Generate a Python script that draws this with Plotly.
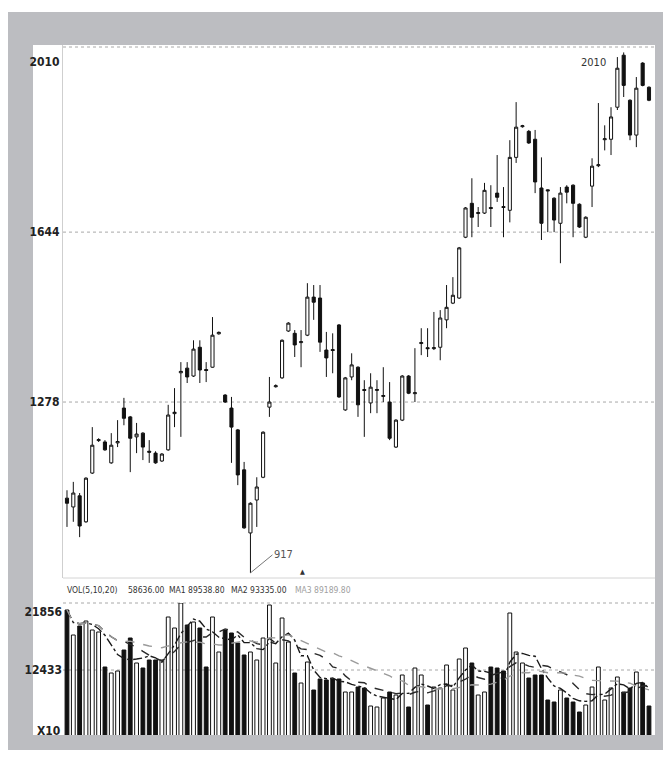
import plotly.graph_objects as go
import pandas as pd

# ---------------- data ----------------
opens = [1071,1052,1076,1020,1125,1195,1192,1147,1190,1265,1246,1203,1211,1172,1168,1151,1175,1253,1341,1351,
         1334,1396,1348,1353,1425,1293,1265,1218,1132,996,1067,1116,1267,1311,1330,1431,1426,1406,1422,1504,
         1502,1390,1391,1444,1261,1332,1353,1305,1276,1303,1290,1278,1181,1239,1334,1296,1404,1395,1393,1396,
         1455,1491,1502,1633,1706,1684,1685,1697,1728,1699,1691,1805,1871,1861,1844,1739,1735,1717,1663,1741,
         1745,1704,1633,1743,1787,1843,1844,1913,2025,1928,1853,2008,1956]
highs = [1088,1106,1082,1116,1224,1200,1196,1211,1239,1287,1248,1233,1213,1196,1172,1168,1272,1308,1364,1364,
         1411,1411,1364,1461,1430,1295,1289,1220,1149,1062,1116,1215,1332,1316,1413,1450,1433,1433,1534,1530,
         1530,1429,1426,1446,1332,1383,1355,1325,1340,1325,1353,1321,1241,1336,1336,1394,1437,1437,1472,1476,
         1530,1547,1612,1698,1760,1698,1750,1745,1810,1741,1842,1924,1875,1864,1864,1805,1736,1719,1741,1745,
         1747,1706,1678,1803,1922,1874,1913,2021,2031,1930,1978,2010,1958]
lows = [1009,1020,987,1018,1123,1192,1173,1145,1181,1228,1127,1168,1153,1147,1145,1149,1173,1224,1203,1319,
        1332,1319,1321,1352,1423,1276,1147,1099,1005,910,1009,1114,1246,1309,1328,1429,1375,1353,1420,1455,
        1386,1332,1340,1287,1259,1325,1246,1203,1254,1254,1278,1196,1179,1237,1295,1278,1379,1375,1390,1368,
        1437,1489,1500,1631,1633,1655,1683,1655,1709,1633,1665,1793,1869,1834,1728,1627,1644,1644,1577,1706,
        1633,1653,1631,1698,1784,1820,1810,1907,1935,1842,1827,1958,1926]
closes = [1060,1082,1011,1114,1185,1197,1175,1185,1193,1243,1200,1209,1181,1170,1147,1166,1250,1256,1344,1332,
          1392,1347,1346,1422,1428,1278,1224,1121,1007,1060,1095,1213,1278,1313,1411,1448,1401,1408,1504,1493,
          1407,1373,1389,1289,1330,1358,1272,1303,1310,1305,1292,1200,1239,1334,1297,1298,1406,1393,1395,1459,
          1482,1508,1610,1696,1676,1686,1734,1695,1719,1697,1805,1870,1873,1836,1752,1663,1733,1670,1728,1730,
          1706,1655,1676,1786,1789,1845,1892,1997,1960,1853,1954,1960,1928]
volumes = [22153,18103,19561,20371,18913,18589,12919,11947,12271,15673,17617,13567,12757,14053,14053,14053,21019,19237,23287,19723,
           20209,19237,12919,21019,15349,18913,18427,16807,14863,15349,14053,17617,22963,13567,20857,16969,11947,10327,13729,9193,
           10975,10813,10975,10975,8869,8869,9679,9517,6601,6439,7897,8869,8383,11623,6439,12757,11623,6763,9679,9517,
           13243,9193,14215,15997,13567,8383,8869,12919,12757,12271,21667,15349,13567,11137,11623,11623,7573,7249,9193,7897,
           7249,5629,6763,9679,12919,7573,9517,11299,8869,9517,12109,10327,6601]

price_ticks = [1278, 1644, 2010]
price_tick_labels = ["1278", "1644", "2010"]
vol_ticks = [12433, 21856]
vol_tick_labels = ["12433", "21856"]
legend_texts = ["VOL(5,10,20)", "58636.00", "MA1 89538.80", "MA2 93335.00", "MA3 89189.80"]
high_label = "2010"
low_label = "917"

idx = list(range(len(opens)))
vol_s = pd.Series(volumes, dtype=float)
ma5 = vol_s.rolling(5, min_periods=1).mean()
ma10 = vol_s.rolling(10, min_periods=1).mean()
ma20 = vol_s.rolling(20, min_periods=1).mean()

# page has an 8px body margin; lay out in page pixels and compensate
OFF = 8
W, H = 671 - OFF, 757 - OFF
PL, PR, PT, PB = 63, 655, 45, 735          # plot area in page pixels
ML, MT = PL - OFF, PT - OFF
MR, MB = W - (PR - OFF), H - (PB - OFF)
PW, PH = PR - PL, PB - PT


def px(x):
    return (x - PL) / PW


def py(y):
    return (PB - y) / PH


FONT = "Liberation Sans Narrow, DejaVu Sans Condensed, sans-serif"
GRAY = "#bcbdc1"

fig = go.Figure()

fig.add_trace(go.Candlestick(
    x=idx, open=opens, high=highs, low=lows, close=closes,
    increasing=dict(line=dict(color="#111111", width=1), fillcolor="#ffffff"),
    decreasing=dict(line=dict(color="#111111", width=1), fillcolor="#111111"),
    whiskerwidth=0, showlegend=False, hoverinfo="skip",
    xaxis="x", yaxis="y"))

bar_fill = ["#111111" if c < o else "#ffffff" for o, c in zip(opens, closes)]
fig.add_trace(go.Bar(
    x=idx, y=volumes, width=0.6,
    marker=dict(color=bar_fill, line=dict(color="#111111", width=1)),
    showlegend=False, hoverinfo="skip", xaxis="x2", yaxis="y2"))

fig.add_trace(go.Scatter(x=idx, y=ma5, mode="lines", line=dict(color="#1a1a1a", width=1.4, dash="dashdot"),
                         showlegend=False, hoverinfo="skip", xaxis="x2", yaxis="y2"))
fig.add_trace(go.Scatter(x=idx, y=ma10, mode="lines", line=dict(color="#2a2a2a", width=1.4, dash="dash"),
                         showlegend=False, hoverinfo="skip", xaxis="x2", yaxis="y2"))
fig.add_trace(go.Scatter(x=idx, y=ma20, mode="lines", line=dict(color="#9a9a9a", width=1.4, dash="dash"),
                         showlegend=False, hoverinfo="skip", xaxis="x2", yaxis="y2"))

xr = [-0.63, len(opens) - 1 + 0.95]
tickfont = dict(family=FONT, size=12, color="#222222", weight="bold")

fig.update_layout(
    width=W, height=H,
    margin=dict(l=ML, r=MR, t=MT, b=MB),
    paper_bgcolor="#ffffff", plot_bgcolor="rgba(0,0,0,0)",
    xaxis=dict(domain=[0, 1], range=xr, showticklabels=False, showgrid=False, zeroline=False,
               rangeslider=dict(visible=False), anchor="y"),
    yaxis=dict(domain=[py(578), 1], range=[899, 2047], tickvals=price_ticks, ticktext=price_tick_labels,
               showgrid=False, zeroline=False, showline=True, linecolor="#cfcfcf", linewidth=1,
               ticks="", tickfont=tickfont, anchor="x"),
    xaxis2=dict(domain=[0, 1], range=xr, showticklabels=False, showgrid=False, zeroline=False, anchor="y2"),
    yaxis2=dict(domain=[0, py(603)], range=[1903, 23287], tickvals=vol_ticks, ticktext=vol_tick_labels,
                showgrid=False, zeroline=False, showline=False, ticks="", tickfont=tickfont, anchor="x2"),
)

shapes = []
# gray frame and white panel
shapes.append(dict(type="rect", xref="paper", yref="paper", x0=px(5), x1=px(665), y0=py(750), y1=py(12),
                   fillcolor=GRAY, line=dict(width=0), layer="below"))
shapes.append(dict(type="rect", xref="paper", yref="paper", x0=px(33), x1=px(655), y0=py(735), y1=py(45),
                   fillcolor="#ffffff", line=dict(width=0), layer="below"))
# price panel gridlines
for v in price_ticks[:2]:
    shapes.append(dict(type="line", xref="x domain", yref="y", x0=0, x1=1, y0=v, y1=v,
                       line=dict(color="#a8a8a8", width=1, dash="dot"), layer="below"))
shapes.append(dict(type="line", xref="paper", yref="paper", x0=0, x1=1, y0=py(47), y1=py(47),
                   line=dict(color="#a8a8a8", width=1, dash="dot"), layer="below"))
shapes.append(dict(type="line", xref="paper", yref="paper", x0=0, x1=1, y0=py(578), y1=py(578),
                   line=dict(color="#d4d4d4", width=1), layer="below"))
# volume panel gridlines
shapes.append(dict(type="line", xref="paper", yref="paper", x0=0, x1=1, y0=py(603), y1=py(603),
                   line=dict(color="#a8a8a8", width=1, dash="dot"), layer="below"))
shapes.append(dict(type="line", xref="x2 domain", yref="y2", x0=0, x1=1, y0=vol_ticks[0], y1=vol_ticks[0],
                   line=dict(color="#a8a8a8", width=1, dash="dot"), layer="below"))
fig.update_layout(shapes=shapes)

ann = []
# indicator legend row
leg_x = [65, 126, 167, 229, 293]
leg_col = ["#333333", "#333333", "#333333", "#333333", "#a0a0a0"]
for t, x, c in zip(legend_texts, leg_x, leg_col):
    ann.append(dict(text=t, xref="paper", yref="paper", x=px(x), y=py(590), xanchor="left", yanchor="middle",
                    showarrow=False, font=dict(family=FONT, size=8.5, color=c)))
ann.append(dict(text="X10", xref="paper", yref="paper", x=px(62), y=py(731), xanchor="right", yanchor="middle",
                showarrow=False, font=tickfont))
ann.append(dict(text="▲", xref="paper", yref="paper", x=px(302), y=py(572), xanchor="center", yanchor="middle",
                showarrow=False, font=dict(family=FONT, size=7, color="#333333")))
# high / low markers
hi_i = max(idx, key=lambda i: highs[i])
lo_i = min(idx, key=lambda i: lows[i])
ann.append(dict(text=high_label, x=hi_i, y=highs[hi_i], xref="x", yref="y", showarrow=False,
                xanchor="right", yanchor="middle", xshift=-16, yshift=-10,
                font=dict(family=FONT, size=11, color="#333333")))
ann.append(dict(text=low_label, x=lo_i, y=lows[lo_i], xref="x", yref="y", showarrow=True,
                arrowhead=0, arrowwidth=1, arrowcolor="#777777", ax=22, ay=-18, xanchor="left",
                font=dict(family=FONT, size=11, color="#555555")))
fig.update_layout(annotations=ann)

fig.write_html("out.html")
